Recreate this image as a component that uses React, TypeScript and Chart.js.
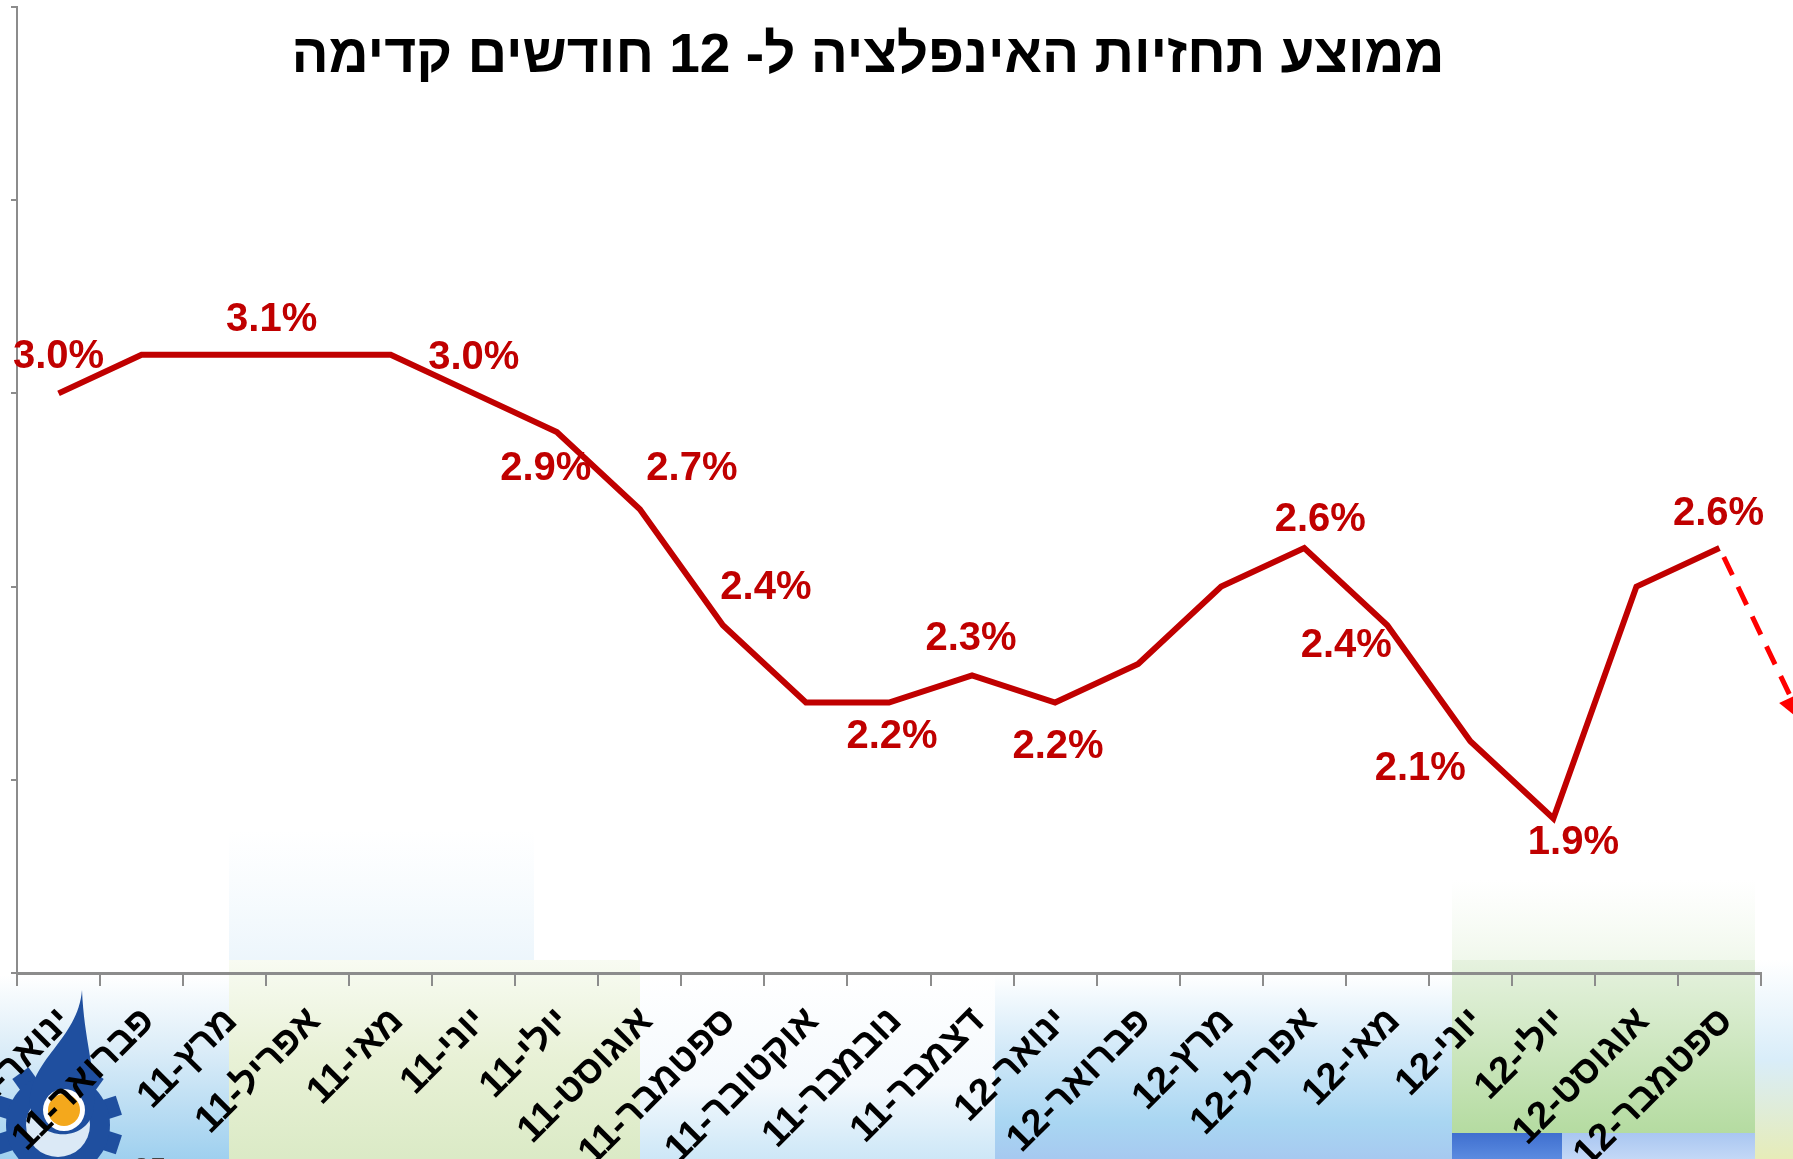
import React, { useEffect, useRef } from 'react';
import { Chart, registerables } from 'chart.js';

Chart.register(...registerables);

// ---------- data ----------
const categories = [
  'ינואר-11', 'פברואר-11', 'מרץ-11', 'אפריל-11', 'מאי-11', 'יוני-11', 'יולי-11',
  'אוגוסט-11', 'ספטמבר-11', 'אוקטובר-11', 'נובמבר-11', 'דצמבר-11',
  'ינואר-12', 'פברואר-12', 'מרץ-12', 'אפריל-12', 'מאי-12', 'יוני-12', 'יולי-12',
  'אוגוסט-12', 'ספטמבר-12',
];
const forecastValues = [
  3.0, 3.1, 3.1, 3.1, 3.1, 3.0, 2.9, 2.7, 2.4, 2.2, 2.2, 2.27,
  2.2, 2.3, 2.5, 2.6, 2.4, 2.1, 1.9, 2.5, 2.6,
];
const labeledIndices = [0, 2, 5, 6, 7, 8, 10, 11, 12, 15, 16, 17, 18, 20];
const yAxisMin = 1.5;
const yAxisMax = 4.0;
const yAxisStep = 0.5;
const arrowTargetValue = 2.15;
const titleText = 'ממוצע תחזיות האינפלציה ל- 12 חודשים קדימה';
const pageNumber = '25';

// ---------- style ----------
const W = 1793;
const H = 1159;
const LINE_RED = '#C00000';
const ARROW_RED = '#FF0000';
const AXIS_GRAY = '#8c8c8c';
const FONT = "Arial, 'Liberation Sans', 'DejaVu Sans', sans-serif";

const labelOffsets: Record<number, [number, number]> = {
  0: [0, -39], 2: [47, -38], 5: [0, -38], 6: [-11, 34], 7: [52, -43], 8: [43, -40],
  10: [3, 31], 11: [-1, -39], 12: [3, 41], 15: [16, -31], 16: [-41, 18],
  17: [-50, 25], 18: [20, 22], 20: [-1, -37],
};

function vGrad(ctx: CanvasRenderingContext2D, x: number, y: number, w: number, h: number, stops: [number, string][]) {
  const g = ctx.createLinearGradient(0, y, 0, y + h);
  stops.forEach(([o, c]) => g.addColorStop(o, c));
  ctx.fillStyle = g;
  ctx.fillRect(x, y, w, h);
}

function drawLogo(ctx: CanvasRenderingContext2D) {
  ctx.save();
  const cx = 58, cy = 1125;
  ctx.fillStyle = '#1f4f9f';
  for (let i = 0; i < 10; i++) {
    ctx.save();
    ctx.translate(cx, cy);
    ctx.rotate((i * Math.PI * 2) / 10);
    ctx.fillRect(-10, -64, 20, 22);
    ctx.restore();
  }
  ctx.beginPath();
  ctx.arc(cx, cy, 52, 0, Math.PI * 2);
  ctx.fill();
  ctx.fillStyle = '#dbe9f6';
  ctx.beginPath();
  ctx.arc(cx, cy, 32, 0, Math.PI * 2);
  ctx.fill();
  ctx.fillStyle = '#1f4f9f';
  ctx.beginPath();
  ctx.moveTo(82, 990);
  ctx.bezierCurveTo(78, 1040, 28, 1060, 30, 1105);
  ctx.bezierCurveTo(32, 1142, 92, 1146, 94, 1105);
  ctx.bezierCurveTo(96, 1070, 84, 1040, 82, 990);
  ctx.fill();
  ctx.fillStyle = '#ffffff';
  ctx.beginPath();
  ctx.arc(64, 1110, 21, 0, Math.PI * 2);
  ctx.fill();
  ctx.fillStyle = '#f4a81c';
  ctx.beginPath();
  ctx.arc(64, 1110, 16, 0, Math.PI * 2);
  ctx.fill();
  ctx.restore();
}

const backgroundPlugin = {
  id: 'slideBackground',
  beforeDraw(chart: any) {
    const ctx: CanvasRenderingContext2D = chart.ctx;
    ctx.save();
    ctx.fillStyle = '#ffffff';
    ctx.fillRect(0, 0, W, H);
    vGrad(ctx, 229, 830, 305, 140, [[0, 'rgba(225,240,250,0)'], [1, 'rgba(215,235,248,0.5)']]);
    vGrad(ctx, 1452, 880, 303, 95, [[0, 'rgba(232,244,226,0)'], [1, 'rgba(225,240,215,0.6)']]);
    vGrad(ctx, 0, 975, 229, 184, [[0, '#ffffff'], [0.4, '#dcedf8'], [1, '#9fd0ef']]);
    vGrad(ctx, 229, 960, 411, 199, [[0, '#f8fbf2'], [0.5, '#e8f1d6'], [1, '#dbeac6']]);
    vGrad(ctx, 640, 975, 355, 184, [[0, '#ffffff'], [0.6, '#f4f9fd'], [1, '#cde7f7']]);
    vGrad(ctx, 995, 975, 457, 184, [[0, '#ffffff'], [0.35, '#d8ecf9'], [0.8, '#a9d6f2'], [1, '#a6c9f0']]);
    vGrad(ctx, 1452, 960, 303, 175, [[0, '#e6f2df'], [1, '#b4dba0']]);
    vGrad(ctx, 1452, 1133, 110, 26, [[0, '#3f6fcf'], [1, '#5b8be0']]);
    vGrad(ctx, 1562, 1133, 193, 26, [[0, '#a9c6f1'], [1, '#c3d8f6']]);
    vGrad(ctx, 1755, 960, 38, 199, [[0, '#ffffff'], [0.5, '#d9edf9'], [1, '#e6ecb8']]);
    drawLogo(ctx);
    ctx.fillStyle = '#444';
    ctx.font = `30px ${FONT}`;
    ctx.textAlign = 'left';
    ctx.textBaseline = 'alphabetic';
    ctx.fillText(pageNumber, 133, 1178);
    ctx.restore();
  },
};

const overlayPlugin = {
  id: 'overlay',
  afterDatasetsDraw(chart: any) {
    const ctx: CanvasRenderingContext2D = chart.ctx;
    const meta = chart.getDatasetMeta(0);
    const xs = chart.scales.x;
    const ys = chart.scales.y;
    ctx.save();
    // dashed forecast arrow
    const last = meta.data[forecastValues.length - 1];
    const tx = xs.getPixelForValue(categories.length);
    const ty = ys.getPixelForValue(arrowTargetValue);
    const ang = Math.atan2(ty - last.y, tx - last.x);
    const headLen = 30;
    const sx = last.x + Math.cos(ang) * 10;
    const sy = last.y + Math.sin(ang) * 10;
    const ex = tx - Math.cos(ang) * headLen * 0.8;
    const ey = ty - Math.sin(ang) * headLen * 0.8;
    ctx.strokeStyle = ARROW_RED;
    ctx.lineWidth = 5;
    ctx.setLineDash([20, 13]);
    ctx.beginPath();
    ctx.moveTo(sx, sy);
    ctx.lineTo(ex, ey);
    ctx.stroke();
    ctx.setLineDash([]);
    ctx.fillStyle = ARROW_RED;
    ctx.beginPath();
    ctx.moveTo(tx, ty);
    ctx.lineTo(tx - headLen * Math.cos(ang - 0.45), ty - headLen * Math.sin(ang - 0.45));
    ctx.lineTo(tx - headLen * Math.cos(ang + 0.45), ty - headLen * Math.sin(ang + 0.45));
    ctx.closePath();
    ctx.fill();

    // data labels
    ctx.direction = 'ltr';
    ctx.font = `bold 40px ${FONT}`;
    ctx.fillStyle = LINE_RED;
    ctx.textAlign = 'center';
    ctx.textBaseline = 'alphabetic';
    labeledIndices.forEach((i) => {
      const p = meta.data[i];
      const [dx, dy] = labelOffsets[i] || [0, -38];
      ctx.fillText(forecastValues[i].toFixed(1) + '%', p.x + dx, p.y + dy + 14);
    });
    ctx.restore();
  },
  afterDraw(chart: any) {
    const ctx: CanvasRenderingContext2D = chart.ctx;
    ctx.save();
    ctx.direction = 'rtl';
    ctx.font = `bold 55px ${FONT}`;
    ctx.fillStyle = '#000';
    ctx.textAlign = 'center';
    ctx.textBaseline = 'alphabetic';
    ctx.fillText(titleText, 868, 72);
    ctx.restore();
  },
};

export default function App() {
  const ref = useRef<HTMLCanvasElement>(null);
  useEffect(() => {
    if (!ref.current) return;
    const chart = new Chart(ref.current, {
      type: 'line',
      data: {
        labels: categories,
        datasets: [
          {
            data: forecastValues,
            borderColor: LINE_RED,
            borderWidth: 6,
            pointRadius: 0,
            tension: 0,
            fill: false,
          },
        ],
      },
      options: {
        responsive: false,
        animation: false,
        devicePixelRatio: 1,
        events: [],
        layout: { padding: { top: 7, right: 32, left: 0, bottom: 0 } },
        plugins: {
          legend: { display: false },
          tooltip: { enabled: false },
          title: { display: false },
        },
        scales: {
          x: {
            type: 'category',
            offset: true,
            grid: {
              offset: true,
              drawOnChartArea: false,
              drawTicks: true,
              tickLength: 13,
              color: AXIS_GRAY,
              lineWidth: 2,
            },
            border: { display: true, color: AXIS_GRAY, width: 3 },
            ticks: {
              autoSkip: false,
              minRotation: 45,
              maxRotation: 45,
              color: '#000',
              padding: 13,
              labelOffset: 7,
              font: { family: FONT, size: 38, weight: 'bold' },
            },
            afterFit: (s: any) => {
              s.height = 186;
              s.paddingLeft = 0;
              s.paddingRight = 0;
            },
          },
          y: {
            min: yAxisMin,
            max: yAxisMax,
            grid: {
              drawOnChartArea: false,
              drawTicks: true,
              tickLength: 6,
              color: AXIS_GRAY,
              lineWidth: 2,
            },
            border: { display: true, color: AXIS_GRAY, width: 2 },
            ticks: { stepSize: yAxisStep, display: false },
            afterFit: (s: any) => {
              s.width = 17;
              s.paddingTop = 0;
              s.paddingBottom = 0;
            },
          },
        },
      },
      plugins: [backgroundPlugin, overlayPlugin],
    } as any);
    return () => chart.destroy();
  }, []);
  return (
    <div style={{ position: 'absolute', left: 0, top: 0, width: W, height: H, overflow: 'hidden' }}>
      <canvas ref={ref} width={W} height={H} dir="rtl" style={{ display: 'block' }} />
    </div>
  );
}
